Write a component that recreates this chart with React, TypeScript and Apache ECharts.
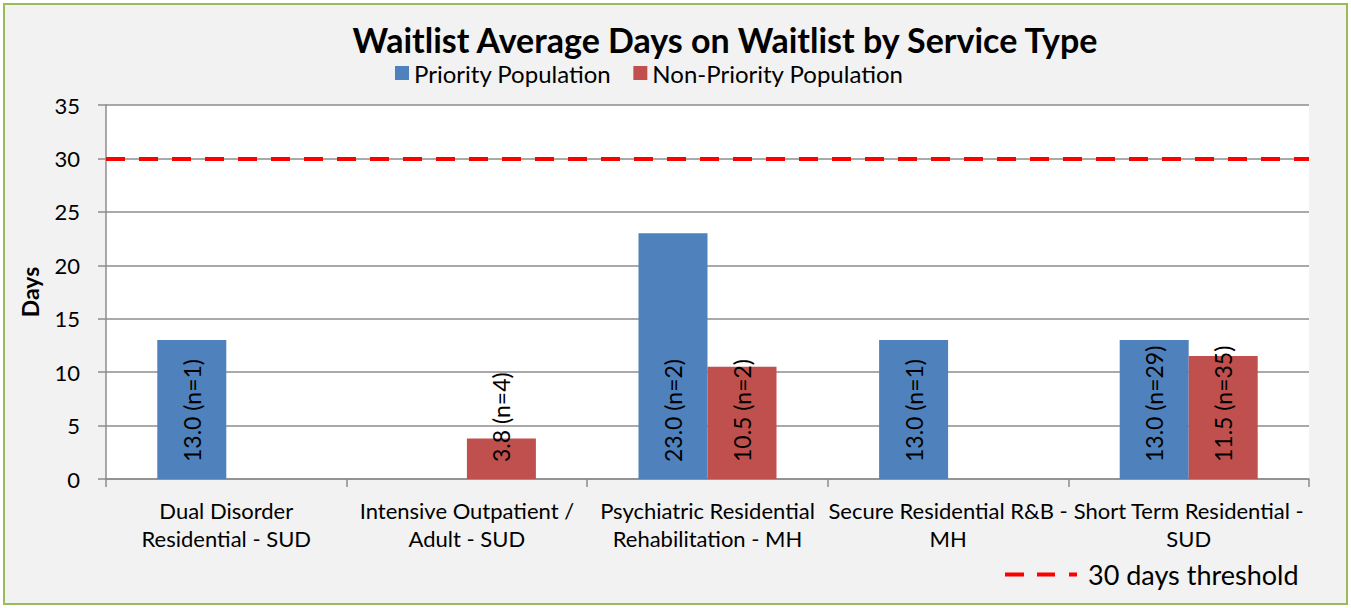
import React, { useEffect, useRef } from "react";
import * as echarts from "echarts";

const categories = [
  "Dual Disorder\nResidential - SUD",
  "Intensive Outpatient /\nAdult - SUD",
  "Psychiatric Residential\nRehabilitation - MH",
  "Secure Residential R&B -\nMH",
  "Short Term Residential -\nSUD",
];
const priorityDays = [13.0, null, 23.0, 13.0, 13.0];
const priorityN = [1, null, 2, 1, 29];
const nonPriorityDays = [null, 3.8, 10.5, null, 11.5];
const nonPriorityN = [null, 4, 2, null, 35];
const thresholdDays = 30;
const yTicks = { min: 0, max: 35, interval: 5 };

const FONT = "Lato";

function buildData(vals: (number | null)[], ns: (number | null)[]) {
  return vals.map((v, i) => ({ value: v, n: ns[i] }));
}

export default function App() {
  const ref = useRef<HTMLDivElement>(null);
  useEffect(() => {
    document.body.style.margin = "0";
    const chart = echarts.init(ref.current!, null, { renderer: "svg" });
    const labelCfg = {
      show: true,
      position: "insideBottom",
      distance: 17,
      rotate: 90,
      align: "left",
      verticalAlign: "middle",
      color: "#000",
      fontFamily: FONT,
      fontSize: 23,
      formatter: (p: any) =>
        p.value == null ? "" : `${Number(p.value).toFixed(1)} (n=${p.data.n})`,
    };
    chart.setOption({
      animation: false,
      backgroundColor: "#ffffff",
      graphic: [
        {
          type: "rect",
          z: -10,
          silent: true,
          shape: { x: 4, y: 4, width: 1343, height: 600 },
          style: { fill: "#f2f2f2", stroke: "#9bbb59", lineWidth: 2 },
        },
      ],
      title: {
        text: "Waitlist Average Days on Waitlist by Service Type",
        left: 720,
        textAlign: "center",
        top: 17,
        textStyle: {
          fontFamily: FONT,
          fontWeight: "bold",
          fontSize: 34,
          color: "#000",
        },
      },
      legend: [
        {
          data: ["Priority Population", "Non-Priority Population"],
          left: 390,
          top: 56,
          itemWidth: 14,
          itemHeight: 14,
          itemGap: 22,
          icon: "rect",
          textStyle: { fontFamily: FONT, fontSize: 24, color: "#000" },
        },
        {
          data: ["30 days threshold"],
          left: 1000,
          top: 556,
          itemWidth: 72,
          itemHeight: 4,
          itemGap: 10,
          icon: "path://M0,0h19v4h-19zM32,0h18v4h-18zM64,0h8v4h-8z",
          textStyle: { fontFamily: FONT, fontSize: 27, color: "#000", padding: [0, 0, 0, 6] },
        },
      ],
      grid: {
        left: 106,
        right: 42,
        top: 105,
        bottom: 129,
        show: true,
        backgroundColor: "#ffffff",
        borderWidth: 0,
      },
      xAxis: {
        type: "category",
        data: categories,
        axisLine: { lineStyle: { color: "#8c8c8c", width: 1.5 } },
        axisTick: { show: true, length: 8, lineStyle: { color: "#8c8c8c", width: 1.5 } },
        axisLabel: {
          interval: 0,
          margin: 17,
          fontFamily: FONT,
          fontSize: 22,
          lineHeight: 28,
          color: "#000",
        },
      },
      yAxis: {
        type: "value",
        min: yTicks.min,
        max: yTicks.max,
        interval: yTicks.interval,
        name: "Days",
        nameLocation: "middle",
        nameGap: 65,
        nameTextStyle: {
          fontFamily: FONT,
          fontWeight: "bold",
          fontSize: 23,
          color: "#000",
        },
        axisLine: { show: true, lineStyle: { color: "#8c8c8c", width: 1.5 } },
        axisTick: { show: true, length: 8, lineStyle: { color: "#8c8c8c", width: 1.5 } },
        axisLabel: {
          margin: 26,
          fontFamily: FONT,
          fontSize: 22,
          color: "#000",
        },
        splitLine: { lineStyle: { color: "#8c8c8c", width: 1.5 } },
      },
      series: [
        {
          name: "Priority Population",
          type: "bar",
          data: buildData(priorityDays, priorityN),
          barWidth: 69,
          barGap: "0%",
          itemStyle: { color: "#4f81bd" },
          label: labelCfg,
        },
        {
          name: "Non-Priority Population",
          type: "bar",
          data: buildData(nonPriorityDays, nonPriorityN),
          barWidth: 69,
          barGap: "0%",
          itemStyle: { color: "#c0504d" },
          label: labelCfg,
        },
        {
          name: "30 days threshold",
          type: "line",
          data: categories.map(() => null),
          itemStyle: { color: "#ff0000" },
          lineStyle: { color: "#ff0000", width: 4, type: [19, 14] },
          showSymbol: false,
          markLine: {
            silent: true,
            symbol: "none",
            label: { show: false },
            lineStyle: { color: "#ff0000", width: 4, type: [19, 14] },
            data: [{ yAxis: thresholdDays }],
          },
        },
      ],
    });
    return () => chart.dispose();
  }, []);
  return <div ref={ref} style={{ width: 1351, height: 608 }} />;
}
